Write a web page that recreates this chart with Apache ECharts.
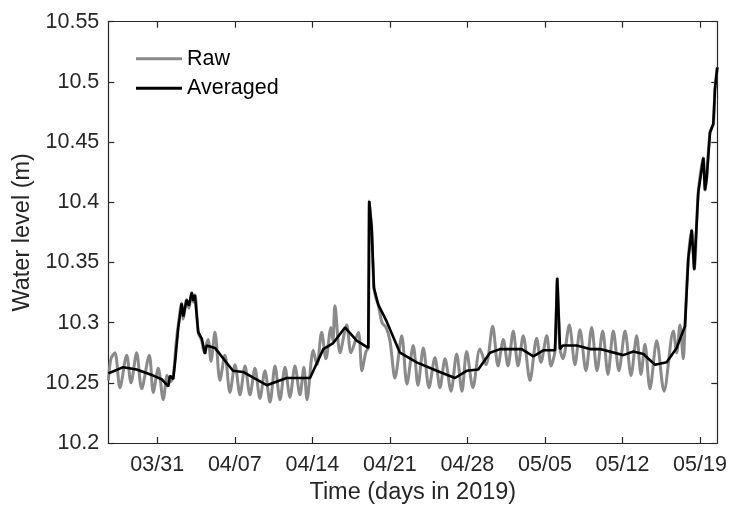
<!DOCTYPE html>
<html>
<head>
<meta charset="utf-8">
<script src="https://cdn.jsdelivr.net/npm/echarts@6/dist/echarts.min.js"></script>
<style>html,body{margin:0;padding:0;background:#fff;}#c{width:730px;height:510px;}</style>
</head>
<body>
<div id="c"></div>
<script>
// x values: days since 2019-03-31 00:00
var tickDays = [0, 7, 14, 21, 28, 35, 42, 49];
var tickLabels = ['03/31', '04/07', '04/14', '04/21', '04/28', '05/05', '05/12', '05/19'];

var rawDays = [-4.41,-4.18,-3.82,-3.37,-2.76,-2.37,-1.86,-1.41,-0.72,-0.36,0.09,0.54,0.88,1.06,1.42,1.69,1.90,2.20,2.35,2.65,2.86,3.11,3.27,3.40,3.70,4.01,4.22,4.58,4.85,5.21,5.66,6.11,6.56,7.02,7.47,7.92,8.37,8.82,9.27,9.72,10.18,10.63,11.08,11.53,11.98,12.43,12.88,13.24,13.52,14.08,14.42,14.84,15.23,15.68,15.86,16.04,16.50,17.10,17.49,18.15,18.48,18.84,19.05,19.14,19.25,19.36,19.56,19.75,19.95,20.29,20.65,21.01,21.46,22.07,22.54,23.11,23.54,24.02,24.53,25.07,25.52,25.98,26.52,27.03,27.51,27.93,28.50,29.13,29.68,30.28,30.76,31.24,31.66,32.14,32.57,33.04,33.65,34.25,34.64,35.16,35.55,35.91,36.11,36.22,36.36,36.63,37.20,37.71,38.16,38.70,39.22,39.70,40.21,40.69,41.17,41.68,42.23,42.77,43.28,43.67,44.03,44.48,45.09,45.75,46.59,46.89,47.19,47.49,47.64,47.94,48.25,48.48,48.84,49.30,49.45,49.60,49.90,50.20,50.35,50.56];
var rawLevel = [10.252,10.270,10.275,10.246,10.273,10.250,10.275,10.245,10.273,10.242,10.262,10.236,10.256,10.250,10.254,10.282,10.298,10.316,10.303,10.319,10.312,10.325,10.317,10.323,10.292,10.285,10.276,10.286,10.268,10.292,10.252,10.273,10.242,10.265,10.240,10.264,10.240,10.262,10.237,10.260,10.234,10.264,10.236,10.263,10.238,10.264,10.240,10.263,10.236,10.277,10.265,10.292,10.270,10.296,10.285,10.314,10.275,10.298,10.275,10.292,10.260,10.276,10.279,10.401,10.390,10.378,10.329,10.320,10.315,10.300,10.296,10.285,10.254,10.289,10.249,10.281,10.248,10.279,10.246,10.271,10.246,10.270,10.243,10.274,10.243,10.276,10.246,10.278,10.265,10.297,10.264,10.286,10.264,10.293,10.264,10.289,10.252,10.287,10.267,10.289,10.264,10.277,10.337,10.310,10.278,10.270,10.298,10.265,10.294,10.260,10.296,10.260,10.293,10.257,10.293,10.260,10.293,10.256,10.289,10.257,10.282,10.245,10.285,10.243,10.293,10.275,10.298,10.270,10.297,10.353,10.377,10.344,10.408,10.437,10.410,10.420,10.458,10.465,10.494,10.512];

var avgDays = [-4.42,-4.12,-3.07,-1.86,-0.36,0.40,0.99,1.15,1.44,1.64,1.90,2.20,2.35,2.65,2.86,3.11,3.27,3.40,3.70,4.01,4.31,4.46,5.21,6.83,7.74,9.88,11.68,13.79,14.99,15.89,16.95,18.00,19.05,19.14,19.36,19.56,19.95,20.71,21.91,23.42,25.23,26.88,27.93,28.98,30.04,30.94,32.90,33.95,34.85,35.91,36.11,36.36,36.60,37.87,39.07,39.97,42.07,42.98,43.88,44.93,45.99,46.89,47.64,47.94,48.25,48.48,48.84,49.30,49.45,49.60,49.90,50.20,50.35,50.44,50.56];
var avgLevel = [10.258,10.259,10.263,10.261,10.256,10.253,10.247,10.256,10.253,10.270,10.296,10.316,10.305,10.319,10.314,10.325,10.318,10.323,10.292,10.287,10.274,10.281,10.279,10.260,10.259,10.248,10.254,10.254,10.278,10.283,10.296,10.285,10.279,10.401,10.378,10.329,10.315,10.301,10.275,10.267,10.260,10.254,10.260,10.261,10.275,10.278,10.278,10.272,10.277,10.277,10.337,10.278,10.281,10.281,10.278,10.278,10.273,10.276,10.274,10.265,10.267,10.279,10.297,10.353,10.377,10.344,10.408,10.437,10.410,10.420,10.458,10.465,10.494,10.494,10.512];

function pairs(xs, ys) { return xs.map(function (x, i) { return [x, ys[i]]; }); }

var axisColor = '#262626';
var FONT = '"Liberation Sans", Arial, Helvetica, sans-serif';
var xMin = -4.42, xMax = 50.56;
var lineCommon = {show: true, onZero: false, lineStyle: {color: axisColor, width: 1.2}};
var tickCommon = {show: true, inside: true, length: 6, lineStyle: {color: axisColor, width: 1.2}};

var chart = echarts.init(document.getElementById('c'), null, {renderer: 'canvas'});
chart.setOption({
  animation: false,
  backgroundColor: '#ffffff',
  grid: {left: 108.3, right: 12.7, top: 21.7, bottom: 64, containLabel: false},
  legend: {
    orient: 'vertical', left: 131, top: 42.8, itemWidth: 46, itemHeight: 3, itemGap: 7.4, icon: 'rect',
    textStyle: {fontFamily: FONT, fontSize: 21.5, color: '#000', lineHeight: 21},
    data: ['Raw', 'Averaged']
  },
  xAxis: [{
    type: 'value', min: xMin, max: xMax, position: 'bottom',
    name: 'Time (days in 2019)', nameLocation: 'middle', nameGap: 38,
    nameTextStyle: {fontFamily: FONT, fontSize: 23.5, color: axisColor},
    axisLine: lineCommon,
    axisTick: Object.assign({customValues: tickDays}, tickCommon),
    axisLabel: {show: true, customValues: tickDays, margin: 11, fontFamily: FONT, fontSize: 21.5, color: axisColor,
      formatter: function (v) { var i = tickDays.indexOf(Math.round(v)); return i >= 0 ? tickLabels[i] : ''; }},
    splitLine: {show: false}
  }, {
    type: 'value', min: xMin, max: xMax, position: 'top',
    axisLine: lineCommon,
    axisTick: Object.assign({customValues: tickDays}, tickCommon),
    axisLabel: {show: false}, splitLine: {show: false}
  }],
  yAxis: [{
    type: 'value', min: 10.2, max: 10.55, interval: 0.05, position: 'left',
    name: 'Water level (m)', nameLocation: 'middle', nameGap: 70,
    nameTextStyle: {fontFamily: FONT, fontSize: 23.5, color: axisColor},
    axisLine: lineCommon,
    axisTick: tickCommon,
    axisLabel: {show: true, margin: 9, fontFamily: FONT, fontSize: 21.5, color: axisColor,
      formatter: function (v) { return String(parseFloat(v.toFixed(2))); }},
    splitLine: {show: false}
  }, {
    type: 'value', min: 10.2, max: 10.55, interval: 0.05, position: 'right',
    axisLine: lineCommon,
    axisTick: tickCommon,
    axisLabel: {show: false}, splitLine: {show: false}
  }],
  series: [{
    name: 'Raw', type: 'line', xAxisIndex: 0, yAxisIndex: 0,
    data: pairs(rawDays, rawLevel), showSymbol: false, symbol: 'none', smooth: 0.3,
    lineStyle: {color: '#8a8a8a', width: 3}, itemStyle: {color: '#8a8a8a'}, z: 2
  }, {
    name: 'Averaged', type: 'line', xAxisIndex: 0, yAxisIndex: 0,
    data: pairs(avgDays, avgLevel), showSymbol: false, symbol: 'none',
    lineStyle: {color: '#000000', width: 2.6}, itemStyle: {color: '#000000'}, z: 3
  }]
});
</script>
</body>
</html>
